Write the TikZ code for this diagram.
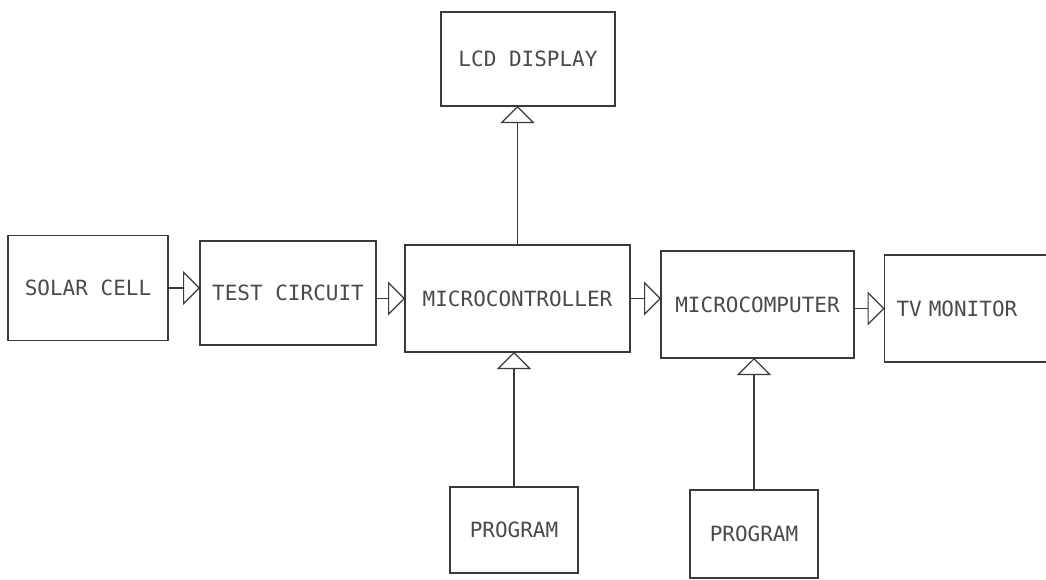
\documentclass[tikz,border=0pt]{standalone}
\usepackage{fontspec}
\newfontfamily\plotfont{DejaVu Sans Mono}
\usetikzlibrary{arrows.meta}
\definecolor{ink}{HTML}{3A3A3A}
\definecolor{txt}{HTML}{4A4A4A}
\tikzset{
  blk/.style={draw=ink, line width=1.2pt, rectangle, inner sep=0pt, outer sep=0pt,
    font=\plotfont\fontsize{21}{25}\selectfont, text=txt},
  conn/.style={draw=ink, line width=1.2pt,
    -{Triangle[open, length=17pt, width=34pt, line width=1.2pt]}},
}
\begin{document}
\begin{tikzpicture}[x=1pt,y=-1pt]
\useasboundingbox (0,0) rectangle (1046,579);
\node[blk, minimum width=174pt, minimum height=94pt]  (lcd)   at (528,59)    {LCD DISPLAY};
\node[blk, minimum width=160pt, minimum height=105pt] (solar) at (88,288)    {SOLAR CELL};
\node[blk, minimum width=176pt, minimum height=104pt] (test)  at (288,293)   {TEST CIRCUIT};
\node[blk, minimum width=225pt, minimum height=107pt] (mc)    at (517.5,298.5) {MICROCONTROLLER};
\node[blk, minimum width=193pt, minimum height=107pt] (mcp)   at (757.5,304.5) {MICROCOMPUTER};
\node[blk, minimum width=170pt, minimum height=107pt, text width=160pt, align=left] (tv) at (969.5,308.5) {\hspace*{7pt}TV MONITOR};
\node[blk, minimum width=128pt, minimum height=86pt]  (p1)    at (514,530)   {PROGRAM};
\node[blk, minimum width=128pt, minimum height=88pt]  (p2)    at (754,534)   {PROGRAM};
\draw[conn] (solar.east) -- (solar.east -| test.west);
\draw[conn] (mc.west -| test.east) -- (mc.west);
\draw[conn] (mc.east) -- (mc.east -| mcp.west);
\draw[conn] (tv.west -| mcp.east) -- (tv.west);
\draw[conn] (mc.north) -- (mc.north |- lcd.south);
\draw[conn] (p1.north) -- (p1.north |- mc.south);
\draw[conn] (p2.north) -- (p2.north |- mcp.south);
\end{tikzpicture}
\end{document}
